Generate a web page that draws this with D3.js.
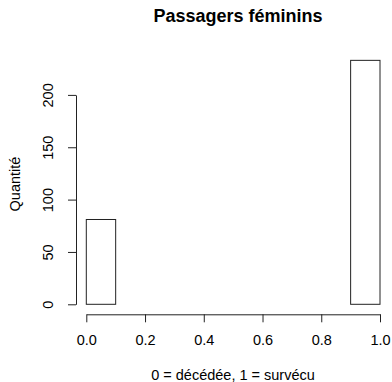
<!DOCTYPE html>
<html><head><meta charset="utf-8">
<script src="https://cdn.jsdelivr.net/npm/d3@7"></script>
<style>body{margin:0;background:#fff}svg{display:block}text{font-family:"Liberation Sans",Arial,sans-serif;fill:#000}</style>
</head><body>
<script>
const breaks = [0,0.1,0.2,0.3,0.4,0.5,0.6,0.7,0.8,0.9,1.0];
const counts = [81,0,0,0,0,0,0,0,0,233];
const xTicks = [0,0.2,0.4,0.6,0.8,1.0];
const yTicks = [0,50,100,150,200];
const title = "Passagers féminins";
const xLabel = "0 = décédée, 1 = survécu";
const yLabel = "Quantité";

const W=392,H=382;
const svg=d3.select("body").append("svg").attr("width",W).attr("height",H);
const x=d3.scaleLinear().domain([0,1]).range([86.3,380]);
const y=d3.scaleLinear().domain([0,200]).range([304.3,94.9]);
const stroke="#222";
const fs=14.5;

const bins=counts.map((c,i)=>({x0:breaks[i],x1:breaks[i+1],c}));
svg.append("g").selectAll("rect").data(bins).join("rect")
  .attr("x",d=>x(d.x0)).attr("width",d=>x(d.x1)-x(d.x0))
  .attr("y",d=>y(d.c)).attr("height",d=>y(0)-y(d.c))
  .attr("fill","#fff").attr("stroke",stroke).attr("stroke-width",1);

// x axis
const xa=d3.axisBottom(x).tickValues(xTicks).tickFormat(d3.format(".1f")).tickSize(8).tickSizeOuter(0);
const gx=svg.append("g").attr("transform","translate(0,314.3)").call(xa);
gx.select(".domain").attr("stroke",stroke);
gx.selectAll(".tick line").attr("stroke",stroke);
gx.selectAll(".tick text").attr("font-size",fs).attr("dy",0).attr("y",31).attr("font-family","Liberation Sans, Arial, sans-serif").attr("fill","#000");

// y axis
const ya=d3.axisLeft(y).tickValues(yTicks).tickFormat(d3.format("d")).tickSize(8).tickSizeOuter(0);
const gy=svg.append("g").attr("transform","translate(76,0)").call(ya);
gy.select(".domain").attr("stroke",stroke);
gy.selectAll(".tick line").attr("stroke",stroke);
gy.selectAll(".tick text").attr("font-size",fs).attr("x",0).attr("dy",0).attr("font-family","Liberation Sans, Arial, sans-serif").attr("fill","#000")
  .attr("text-anchor","middle").attr("transform","translate(-23,0) rotate(-90)");

svg.append("text").attr("x",238).attr("y",22).attr("text-anchor","middle")
  .attr("font-size",18).attr("font-weight","bold").text(title);
svg.append("text").attr("x",233).attr("y",380).attr("text-anchor","middle")
  .attr("font-size",fs).text(xLabel);
svg.append("text").attr("transform","translate(20,184) rotate(-90)").attr("text-anchor","middle")
  .attr("font-size",fs).text(yLabel);
</script>
</body></html>
